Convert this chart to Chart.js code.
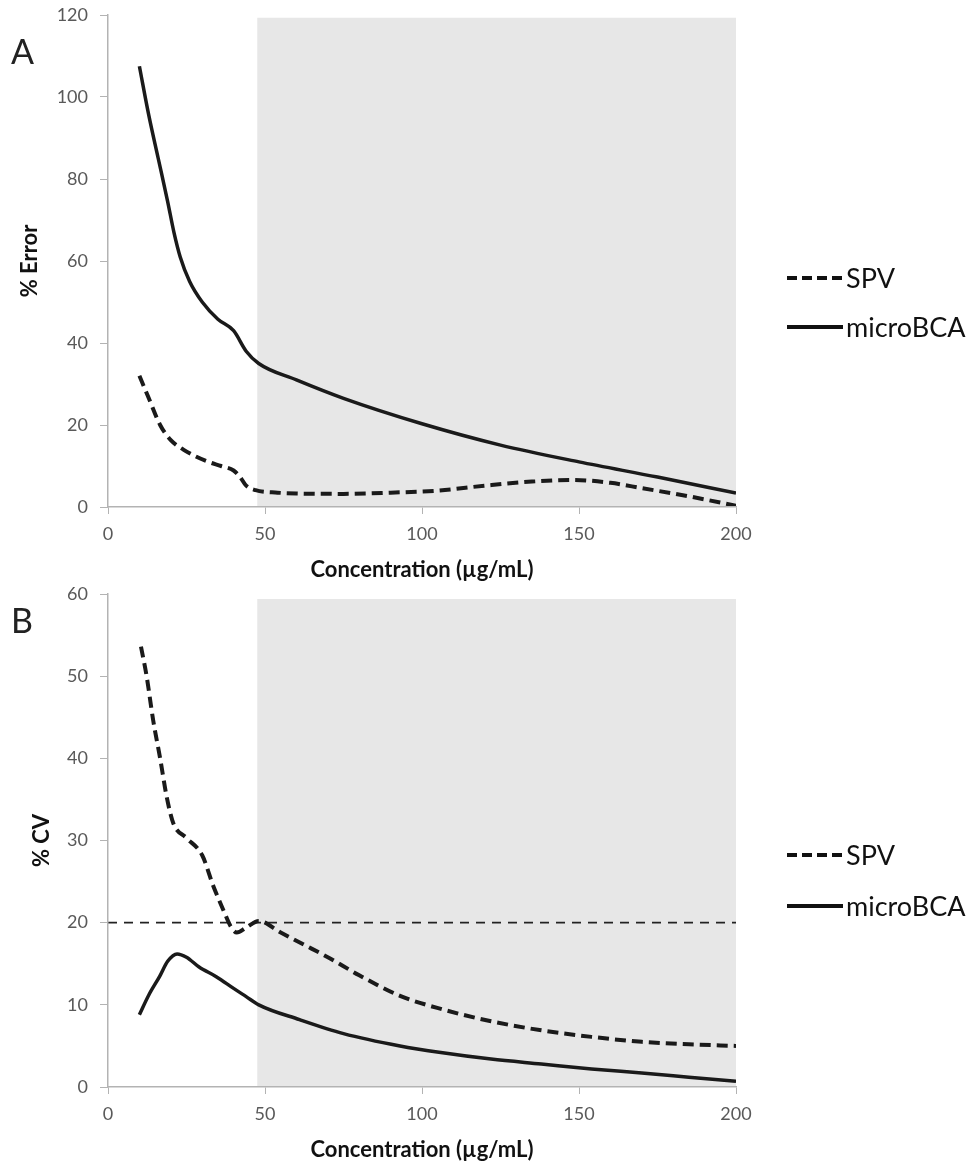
<!DOCTYPE html>
<html>
<head>
  <title>% Error and % CV vs Concentration</title>
  <style>
    body { margin: 0; background: #fff; }
    .panel { width: 974px; height: 583px; }
  </style>
</head>
<body>
<div class="panel"><canvas id="chartA" width="974" height="583"></canvas></div>
<div class="panel"><canvas id="chartB" width="974" height="583"></canvas></div>

<script src="https://cdn.jsdelivr.net/npm/chart.js"></script>
<script>
  // x axis ticks (shared)
  const xTicks = [0, 50, 100, 150, 200];
  const yTicksA = [0, 20, 40, 60, 80, 100, 120];
  const yTicksB = [0, 10, 20, 30, 40, 50, 60];

  // panel A - % Error
  const spvAX = [10, 13, 16.6, 20, 24, 28, 32, 36, 40, 42, 44, 47, 54, 60, 75, 90, 105, 120, 135, 148, 160, 170, 185, 200];
  const spvAY = [32, 26.5, 20, 16.3, 14, 12.3, 11, 10, 8.9, 7.4, 5.2, 4.1, 3.5, 3.3, 3.2, 3.5, 4.0, 5.2, 6.2, 6.6, 5.9, 4.6, 2.6, 0.3];
  const bcaAX = [10, 13, 16, 19, 21, 23, 26, 30, 35, 40, 44, 48, 60, 75, 100, 125, 150, 175, 200];
  const bcaAY = [107.5, 95.5, 85, 74.5, 67, 61, 55, 50, 45.8, 43, 38, 35, 31, 26.5, 20.3, 15.1, 11, 7.3, 3.4];

  // panel B - % CV
  const spvBX = [10.5, 12.3, 14.4, 16.6, 18.7, 20.8, 25, 30, 33.5, 37, 39, 41, 44, 48, 55, 62, 70, 80, 93, 106, 122, 138, 154, 170, 185, 200];
  const spvBY = [53.6, 50, 44.6, 40, 35.3, 32.1, 30.3, 28.2, 24.5, 21.3, 19.6, 18.8, 19.4, 20.2, 18.8, 17.4, 15.8, 13.6, 11.1, 9.5, 8.0, 6.9, 6.1, 5.5, 5.2, 5.0];
  const bcaBX = [10, 13, 16.5, 19, 22, 25, 29, 34.6, 40, 44, 48, 61, 75, 93, 106, 122, 138, 154, 170, 185, 200];
  const bcaBY = [8.8, 11.2, 13.5, 15.3, 16.2, 15.8, 14.6, 13.4, 12, 11, 10, 8.2, 6.5, 5.0, 4.2, 3.4, 2.8, 2.2, 1.7, 1.2, 0.7];
  const limitX = [0, 200];
  const limitY = [20, 20];

  // grey working range band
  const bandX = [47.5, 200];
  const bandTopA = 119.3;
  const bandTopB = 59.4;

  const seriesNames = ['SPV', 'microBCA'];

  Chart.defaults.font.family = 'Lato';

  function pts(xs, ys) {
    return xs.map((x, i) => ({ x: x, y: ys[i] }));
  }

  // draws panel letter and the legend at right
  const sidePlugin = {
    id: 'side',
    afterDraw(chart, args, opts) {
      const ctx = chart.ctx;
      ctx.save();
      ctx.fillStyle = '#222';
      ctx.font = '34px Lato';
      ctx.textBaseline = 'middle';
      ctx.textAlign = 'left';
      ctx.fillText(opts.letter, 11, opts.letterY);

      opts.items.forEach((it, i) => {
        const y = opts.legendY[i];
        ctx.beginPath();
        ctx.setLineDash(it.dash);
        ctx.lineWidth = 4;
        ctx.strokeStyle = '#111';
        ctx.moveTo(787, y);
        ctx.lineTo(843, y);
        ctx.stroke();
        ctx.setLineDash([]);
        ctx.fillStyle = '#111';
        ctx.font = '27px Lato';
        ctx.fillText(it.label, 846, y + 1);
      });
      ctx.restore();
    }
  };

  function makeChart(id, o) {
    const datasets = [
      {
        label: seriesNames[0],
        data: pts(o.spvX, o.spvY),
        borderColor: '#1a1a1a',
        borderWidth: 4,
        borderDash: [11, 6],
        pointRadius: 0,
        cubicInterpolationMode: 'monotone',
        fill: false,
        order: 2
      },
      {
        label: seriesNames[1],
        data: pts(o.bcaX, o.bcaY),
        borderColor: '#1a1a1a',
        borderWidth: 3.5,
        pointRadius: 0,
        cubicInterpolationMode: 'monotone',
        fill: false,
        order: 1
      },
      {
        label: 'band',
        data: pts(bandX, [o.bandTop, o.bandTop]),
        borderWidth: 0,
        borderColor: 'rgba(0,0,0,0)',
        backgroundColor: '#e7e7e7',
        pointRadius: 0,
        fill: 'origin',
        order: 10
      }
    ];
    if (o.limit) {
      datasets.push({
        label: 'limit',
        data: pts(limitX, limitY),
        borderColor: '#222',
        borderWidth: 1.8,
        borderDash: [9, 7],
        pointRadius: 0,
        fill: false,
        order: 3
      });
    }

    return new Chart(document.getElementById(id), {
      type: 'line',
      data: { datasets: datasets },
      plugins: [sidePlugin],
      options: {
        responsive: false,
        animation: false,
        layout: { padding: { left: 0, right: 238, top: o.top, bottom: 0 } },
        plugins: {
          legend: { display: false },
          tooltip: { enabled: false },
          side: { letter: o.letter, letterY: o.letterY, legendY: o.legendY,
                  items: [{ label: seriesNames[0], dash: [10, 5] }, { label: seriesNames[1], dash: [] }] }
        },
        scales: {
          x: {
            type: 'linear',
            min: 0,
            max: 200,
            afterBuildTicks: s => { s.ticks = xTicks.map(v => ({ value: v })); },
            afterFit: s => { s.height = o.xHeight; },
            grid: { drawOnChartArea: false, color: '#b3b3b3', tickLength: 7, z: 1 },
            border: { color: '#b3b3b3', width: 1.5, z: 1 },
            ticks: { color: '#595959', font: { size: 18 }, padding: 9, maxRotation: 0 },
            title: {
              display: true,
              text: 'Concentration (µg/mL)',
              color: '#111',
              font: { size: 22, weight: 'bold' },
              padding: { top: 0, bottom: o.xTitlePad }
            }
          },
          y: {
            min: 0,
            max: o.yMax,
            afterBuildTicks: s => { s.ticks = o.yTicks.map(v => ({ value: v })); },
            afterFit: s => { s.width = 108; s.paddingTop = 0; s.paddingBottom = 0; },
            grid: { drawOnChartArea: false, color: '#b3b3b3', tickLength: 8, z: 1 },
            border: { color: '#b3b3b3', width: 1.5, z: 1 },
            ticks: { color: '#595959', font: { size: 18 }, padding: 12 },
            title: {
              display: true,
              text: o.yTitle,
              color: '#111',
              font: { size: 22, weight: 'bold' },
              padding: { top: o.yTitlePad, bottom: 0 }
            }
          }
        }
      }
    });
  }

  makeChart('chartA', {
    spvX: spvAX, spvY: spvAY, bcaX: bcaAX, bcaY: bcaAY,
    bandTop: bandTopA, yMax: 120, yTicks: yTicksA, yTitle: '% Error',
    top: 15, xHeight: 76, xTitlePad: 0, yTitlePad: 17,
    letter: 'A', letterY: 53, legendY: [278, 327], limit: false
  });

  makeChart('chartB', {
    spvX: spvBX, spvY: spvBY, bcaX: bcaBX, bcaY: bcaBY,
    bandTop: bandTopB, yMax: 60, yTicks: yTicksB, yTitle: '% CV',
    top: 11, xHeight: 79, xTitlePad: 3, yTitlePad: 29,
    letter: 'B', letterY: 39, legendY: [272, 323], limit: true
  });
</script>
</body>
</html>
